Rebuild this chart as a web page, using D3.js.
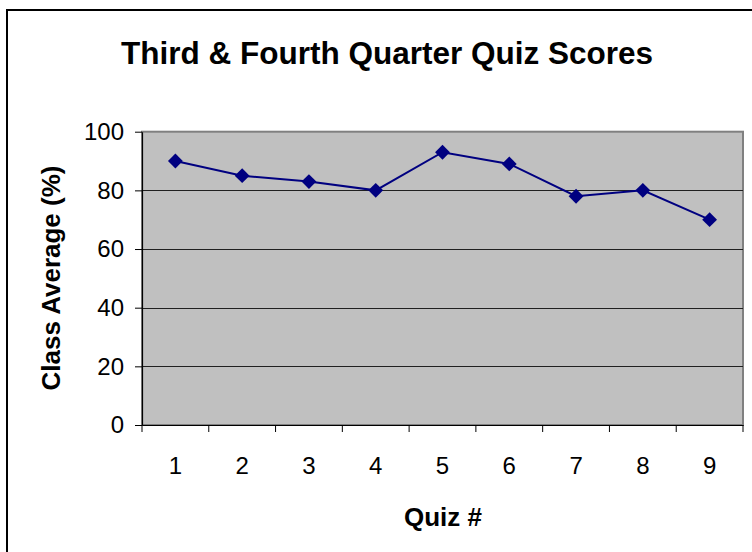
<!DOCTYPE html>
<html><head><meta charset="utf-8">
<script src="https://cdn.jsdelivr.net/npm/d3@7"></script>
<style>body{margin:0;background:#fff}svg{display:block}</style>
</head><body>
<script>
const quizzes = [1,2,3,4,5,6,7,8,9];
const averages = [90,85,83,80,93,89,78,80,70];
const yTicks = [0,20,40,60,80,100];
const title = "Third & Fourth Quarter Quiz Scores";
const xTitle = "Quiz #";
const yTitle = "Class Average (%)";

const W = 752, H = 552;
const svg = d3.select("body").append("svg").attr("width", W).attr("height", H);
const font = "Liberation Sans, Arial, sans-serif";

// outer chart border
svg.append("rect").attr("x", 7).attr("y", 10).attr("width", 800).attr("height", 600)
  .attr("fill", "#fff").attr("stroke", "#000").attr("stroke-width", 2);

const L = 142, R = 743, T = 131.7, B = 425;
const x = d3.scaleBand().domain(quizzes).range([L, R]);
const y = d3.scaleLinear().domain([0, 100]).range([B, T]);

svg.append("rect").attr("x", L).attr("y", T).attr("width", R - L).attr("height", B - T)
  .attr("fill", "#c0c0c0").attr("stroke", "#808080").attr("stroke-width", 2);

// gridlines
svg.append("g").selectAll("line").data(yTicks.filter(d => d > 0 && d < 100)).join("line")
  .attr("x1", L).attr("x2", R).attr("y1", d => Math.round(y(d)) + 0.5).attr("y2", d => Math.round(y(d)) + 0.5)
  .attr("stroke", "#202020").attr("stroke-width", 1);

// y axis
const ya = svg.append("g").attr("transform", `translate(${L},0)`)
  .call(d3.axisLeft(y).tickValues(yTicks).tickSize(7).tickSizeOuter(0));
ya.select(".domain").attr("stroke", "#000").attr("stroke-width", 1.2);
ya.selectAll("text").attr("font-family", font).attr("font-size", 24).attr("fill", "#000").attr("x", -18);

// x axis
const xa = svg.append("g").attr("transform", `translate(0,${B})`)
  .call(d3.axisBottom(x).tickSize(0).tickSizeOuter(0));
xa.select(".domain").attr("stroke", "#000").attr("stroke-width", 1.2);
xa.selectAll("text").attr("font-family", font).attr("font-size", 24).attr("fill", "#000").attr("dy", 0).attr("y", 49);
// category boundary ticks
const bounds = quizzes.map(q => x(q)).concat([x(quizzes[quizzes.length - 1]) + x.bandwidth()]);
svg.append("g").selectAll("line").data(bounds).join("line")
  .attr("x1", d => d).attr("x2", d => d).attr("y1", B).attr("y2", B + 7)
  .attr("stroke", "#000").attr("stroke-width", 1);

// line
const cx = d => x(d) + x.bandwidth() / 2;
svg.append("path").datum(quizzes.map((q, i) => [cx(q), y(averages[i])]))
  .attr("d", d3.line()).attr("fill", "none").attr("stroke", "#000080").attr("stroke-width", 2);
svg.append("g").selectAll("path").data(quizzes).join("path")
  .attr("d", d3.symbol(d3.symbolDiamond2, 140)())
  .attr("transform", (q, i) => `translate(${cx(q)},${y(averages[i])})`)
  .attr("fill", "#000080");

// titles
svg.append("text").attr("x", 387).attr("y", 64).attr("text-anchor", "middle")
  .attr("font-family", font).attr("font-weight", "bold").attr("font-size", 31.5).text(title);
svg.append("text").attr("x", 443).attr("y", 526).attr("text-anchor", "middle")
  .attr("font-family", font).attr("font-weight", "bold").attr("font-size", 26).text(xTitle);
svg.append("text").attr("transform", "translate(60,278) rotate(-90)").attr("text-anchor", "middle")
  .attr("font-family", font).attr("font-weight", "bold").attr("font-size", 26).text(yTitle);
</script>
</body></html>
